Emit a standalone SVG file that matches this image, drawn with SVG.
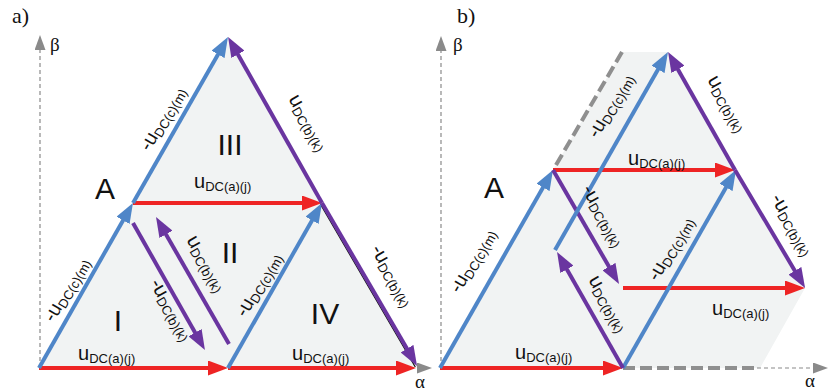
<svg xmlns="http://www.w3.org/2000/svg" width="828" height="391" viewBox="0 0 828 391">
<style>
.fill{fill:#f1f3f3;stroke:none}
.red{stroke:#ee2424;stroke-width:4;fill:none;marker-end:url(#hr)}
.blue{stroke:#4f86c8;stroke-width:4;fill:none;marker-end:url(#hb)}
.pur{stroke:#6a35a0;stroke-width:4;fill:none}
.pura{marker-end:url(#hp)}
.axis{stroke:#8a8a8a;stroke-width:1.2;stroke-dasharray:4 3;fill:none;marker-end:url(#hg)}
.thick{stroke:#8f8f8f;stroke-width:4;stroke-dasharray:12 5;fill:none}
.lbl{font-size:20px;fill:#111}
.sub{font-size:13px}
.big{font-size:30px;fill:#111}
.serif{fill:#111}
</style>
<defs>
<marker id="hr" markerUnits="userSpaceOnUse" markerWidth="20" markerHeight="15" viewBox="0 0 20 15" refX="10" refY="7.5" orient="auto"><path d="M0,0 L20,7.5 L0,15 z" fill="#ee2424"/></marker>
<marker id="hb" markerUnits="userSpaceOnUse" markerWidth="20" markerHeight="15" viewBox="0 0 20 15" refX="10" refY="7.5" orient="auto"><path d="M0,0 L20,7.5 L0,15 z" fill="#4f86c8"/></marker>
<marker id="hp" markerUnits="userSpaceOnUse" markerWidth="20" markerHeight="15" viewBox="0 0 20 15" refX="10" refY="7.5" orient="auto"><path d="M0,0 L20,7.5 L0,15 z" fill="#6a35a0"/></marker>
<marker id="hg" markerUnits="userSpaceOnUse" markerWidth="15" markerHeight="11" viewBox="0 0 15 11" refX="0" refY="5.5" orient="auto"><path d="M0,0 L15,5.5 L0,11 z" fill="#8a8a8a"/></marker>
</defs>

<g id="panel-a-background">
<polygon class="fill" points="39,368 228,37 418,368"/>
</g>
<g id="panel-b-background">
<polygon class="fill" points="440,368 553,170 622,52 668,52 735,170 805,288 760,368"/>
</g>

<g id="axes">
<path class="axis" d="M40,368 L40,50"/>
<path class="axis" d="M39,368 L417,368"/>
<path class="axis" d="M441,368 L441,51"/>
<path class="axis" d="M757,368 L813,368"/>
<path class="thick" d="M623,368 L757,368"/>
<path class="thick" d="M556,165 L622,52"/>
</g>

<g id="connectors">
<path d="M320.3,204 L415.3,367" stroke="#111" stroke-width="1.2" fill="none"/>
<path class="red" d="M39,368 L218,368"/>
<path class="red" d="M228,368 L406,368"/>
<path class="red" d="M133,203 L312,203"/>
<path class="blue" d="M39,368 L128,211.7"/>
<path class="blue" d="M133,203 L223,45.7"/>
<path class="blue" d="M228,368 L317,211.7"/>
<path class="pur pura" d="M322,203 L233,45.7"/>
<path class="pur pura" d="M322,203 L412,357.3"/>
<path class="pur pura" d="M133,223 L200,341.3"/>
<path class="pur pura" d="M229,344 L161,225.7"/>
<path class="red" d="M440,368 L613,368"/>
<path class="blue" d="M440,368 L548,178.7"/>
<path class="red" d="M553,170 L725,170"/>
<path class="pur pura" d="M553,170 L614,275.3"/>
<path class="red" d="M623,288 L795,288"/>
<path class="blue" d="M623,368 L731,178.7"/>
<path class="pur pura" d="M623,368 L562,260.7"/>
<path class="blue" d="M555,250 L663,60.7"/>
<path class="pur pura" d="M735,170 L673,60.7"/>
<path class="pur pura" d="M735,170 L800,279.4"/>
</g>

<g id="panel-a-labels" font-family="'Liberation Sans', Arial, sans-serif">
<text class="serif" x="12" y="23" font-size="22" font-family="'Liberation Serif', 'Times New Roman', serif">a)</text>
<text class="serif" x="50" y="51" font-size="19" font-family="'Liberation Serif', 'Times New Roman', serif">β</text>
<text class="serif" x="415" y="388" font-size="19" font-family="'Liberation Serif', 'Times New Roman', serif">α</text>
<text class="big" x="230" y="155" text-anchor="middle">III</text>
<text class="big" x="230" y="263" text-anchor="middle">II</text>
<text class="big" x="118" y="331" text-anchor="middle">I</text>
<text class="big" x="325" y="324" text-anchor="middle">IV</text>
<text class="big" x="105" y="199" text-anchor="middle" font-size="32">A</text>
<text class="lbl" x="194" y="188">u<tspan class="sub" dy="3">DC(a)(j)</tspan></text>
<text class="lbl" x="78" y="360">u<tspan class="sub" dy="3">DC(a)(j)</tspan></text>
<text class="lbl" x="292" y="360">u<tspan class="sub" dy="3">DC(a)(j)</tspan></text>
<g transform="translate(165,120) rotate(-60)"><text class="lbl" y="3" text-anchor="middle">-u<tspan class="sub" dy="3">DC(c)(m)</tspan></text></g>
<g transform="translate(306,124) rotate(60)"><text class="lbl" y="3" text-anchor="middle">u<tspan class="sub" dy="3">DC(b)(k)</tspan></text></g>
<g transform="translate(69,291) rotate(-60)"><text class="lbl" y="3" text-anchor="middle">-u<tspan class="sub" dy="3">DC(c)(m)</tspan></text></g>
<g transform="translate(169,311) rotate(60)"><text class="lbl" y="3" text-anchor="middle">-u<tspan class="sub" dy="3">DC(b)(k)</tspan></text></g>
<g transform="translate(204,265) rotate(60)"><text class="lbl" y="3" text-anchor="middle">u<tspan class="sub" dy="3">DC(b)(k)</tspan></text></g>
<g transform="translate(261,286) rotate(-60)"><text class="lbl" y="3" text-anchor="middle">-u<tspan class="sub" dy="3">DC(c)(m)</tspan></text></g>
<g transform="translate(390,277) rotate(60)"><text class="lbl" y="3" text-anchor="middle">-u<tspan class="sub" dy="3">DC(b)(k)</tspan></text></g>
</g>

<g id="panel-b-labels" font-family="'Liberation Sans', Arial, sans-serif">
<text class="serif" x="457" y="23" font-size="22" font-family="'Liberation Serif', 'Times New Roman', serif">b)</text>
<text class="serif" x="453" y="51" font-size="19" font-family="'Liberation Serif', 'Times New Roman', serif">β</text>
<text class="serif" x="805" y="387" font-size="19" font-family="'Liberation Serif', 'Times New Roman', serif">α</text>
<text class="big" x="494" y="198" text-anchor="middle">A</text>
<text class="lbl" x="515" y="359">u<tspan class="sub" dy="3">DC(a)(j)</tspan></text>
<text class="lbl" x="628" y="165">u<tspan class="sub" dy="3">DC(a)(j)</tspan></text>
<text class="lbl" x="712" y="315">u<tspan class="sub" dy="3">DC(a)(j)</tspan></text>
<g transform="translate(475,262) rotate(-60)"><text class="lbl" y="3" text-anchor="middle">-u<tspan class="sub" dy="3">DC(c)(m)</tspan></text></g>
<g transform="translate(606,305) rotate(60)"><text class="lbl" y="3" text-anchor="middle">u<tspan class="sub" dy="3">DC(b)(k)</tspan></text></g>
<g transform="translate(673,250) rotate(-60)"><text class="lbl" y="3" text-anchor="middle">-u<tspan class="sub" dy="3">DC(c)(m)</tspan></text></g>
<g transform="translate(790,226) rotate(60)"><text class="lbl" y="3" text-anchor="middle">-u<tspan class="sub" dy="3">DC(b)(k)</tspan></text></g>
<g transform="translate(601,217) rotate(60)"><text class="lbl" y="3" text-anchor="middle">-u<tspan class="sub" dy="3">DC(b)(k)</tspan></text></g>
<g transform="translate(613,107) rotate(-60)"><text class="lbl" y="3" text-anchor="middle">-u<tspan class="sub" dy="3">DC(c)(m)</tspan></text></g>
<g transform="translate(725,105) rotate(60)"><text class="lbl" y="3" text-anchor="middle">u<tspan class="sub" dy="3">DC(b)(k)</tspan></text></g>
</g>
</svg>
